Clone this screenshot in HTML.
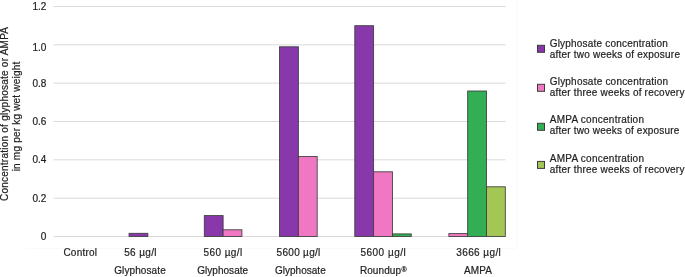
<!DOCTYPE html><html><head><meta charset="utf-8"><style>html,body{margin:0;padding:0;background:#fff;width:685px;height:277px;overflow:hidden}svg{display:block}text{font-family:"Liberation Sans",sans-serif;fill:#1e1e1e;stroke:#1e1e1e;stroke-width:0.2px}svg{will-change:transform}</style></head><body>
<svg width="685" height="277" viewBox="0 0 685 277">
<rect x="0" y="0" width="685" height="277" fill="#fff"/>
<path d="M26,248.5 H516.5 V0" fill="none" stroke="#fafafa" stroke-width="1"/>
<line x1="53.5" x2="505.5" y1="6.50" y2="6.50" stroke="#d9d9d9" stroke-width="1"/>
<line x1="53.5" x2="505.5" y1="44.83" y2="44.83" stroke="#d9d9d9" stroke-width="1"/>
<line x1="53.5" x2="505.5" y1="83.17" y2="83.17" stroke="#d9d9d9" stroke-width="1"/>
<line x1="53.5" x2="505.5" y1="121.50" y2="121.50" stroke="#d9d9d9" stroke-width="1"/>
<line x1="53.5" x2="505.5" y1="159.83" y2="159.83" stroke="#d9d9d9" stroke-width="1"/>
<line x1="53.5" x2="505.5" y1="198.17" y2="198.17" stroke="#d9d9d9" stroke-width="1"/>
<line x1="53.5" x2="505.5" y1="236.50" y2="236.50" stroke="#d9d9d9" stroke-width="1"/>
<text x="46.4" y="10.00" font-size="10.0" text-anchor="end">1.2</text>
<text x="46.4" y="50.73" font-size="10.0" text-anchor="end">1.0</text>
<text x="46.4" y="86.67" font-size="10.0" text-anchor="end">0.8</text>
<text x="46.4" y="125.00" font-size="10.0" text-anchor="end">0.6</text>
<text x="46.4" y="163.33" font-size="10.0" text-anchor="end">0.4</text>
<text x="46.4" y="201.67" font-size="10.0" text-anchor="end">0.2</text>
<text x="46.4" y="240.00" font-size="10.0" text-anchor="end">0</text>
<rect x="129.05" y="233.30" width="18.812" height="3.20" fill="#8838AA" stroke="#3c3c3c" stroke-width="0.85"/>
<rect x="204.30" y="215.60" width="18.812" height="20.90" fill="#8838AA" stroke="#3c3c3c" stroke-width="0.85"/>
<rect x="223.11" y="229.80" width="18.812" height="6.70" fill="#F078C2" stroke="#3c3c3c" stroke-width="0.85"/>
<rect x="279.55" y="46.80" width="18.812" height="189.70" fill="#8838AA" stroke="#3c3c3c" stroke-width="0.85"/>
<rect x="298.36" y="156.50" width="18.812" height="80.00" fill="#F078C2" stroke="#3c3c3c" stroke-width="0.85"/>
<rect x="354.80" y="25.70" width="18.812" height="210.80" fill="#8838AA" stroke="#3c3c3c" stroke-width="0.85"/>
<rect x="373.61" y="171.80" width="18.812" height="64.70" fill="#F078C2" stroke="#3c3c3c" stroke-width="0.85"/>
<rect x="392.43" y="233.90" width="18.812" height="2.60" fill="#33AE55" stroke="#3c3c3c" stroke-width="0.85"/>
<rect x="448.86" y="233.60" width="18.812" height="2.90" fill="#F078C2" stroke="#3c3c3c" stroke-width="0.85"/>
<rect x="467.68" y="91.00" width="18.812" height="145.50" fill="#33AE55" stroke="#3c3c3c" stroke-width="0.85"/>
<rect x="486.49" y="186.80" width="18.812" height="49.70" fill="#A4C654" stroke="#3c3c3c" stroke-width="0.85"/>
<text x="63.40" y="255.8" font-size="10.0" textLength="33.60" lengthAdjust="spacing">Control</text>
<text x="124.20" y="255.8" font-size="10.0" textLength="32.40" lengthAdjust="spacing">56 µg/l</text>
<text x="203.50" y="255.8" font-size="10.0" textLength="38.80" lengthAdjust="spacing">560 µg/l</text>
<text x="276.60" y="255.8" font-size="10.0" textLength="43.70" lengthAdjust="spacing">5600 µg/l</text>
<text x="360.40" y="255.8" font-size="10.0" textLength="45.40" lengthAdjust="spacing">5600 µg/l</text>
<text x="456.20" y="255.8" font-size="10.0" textLength="44.60" lengthAdjust="spacing">3666 µg/l</text>
<text x="114.20" y="274.1" font-size="10.0" textLength="51.50" lengthAdjust="spacing">Glyphosate</text>
<text x="197.20" y="274.1" font-size="10.0" textLength="50.90" lengthAdjust="spacing">Glyphosate</text>
<text x="275.00" y="274.1" font-size="10.0" textLength="50.70" lengthAdjust="spacing">Glyphosate</text>
<text x="464.10" y="274.1" font-size="10.0" textLength="27.80" lengthAdjust="spacing">AMPA</text>
<text x="359.9" y="274.1" font-size="10.0"><tspan textLength="41.1" lengthAdjust="spacing">Roundup</tspan><tspan font-size="7" dx="0.5" dy="-2.4">®</tspan></text>
<rect x="537.5" y="45.30" width="7" height="7" fill="#8838AA" stroke="#3c3c3c" stroke-width="1"/>
<text x="549.7" y="46.50" font-size="10.0" textLength="118.10" lengthAdjust="spacing">Glyphosate concentration</text>
<text x="549.7" y="57.80" font-size="10.0" textLength="130.30" lengthAdjust="spacing">after two weeks of exposure</text>
<rect x="537.5" y="84.30" width="7" height="7" fill="#F078C2" stroke="#3c3c3c" stroke-width="1"/>
<text x="549.7" y="85.20" font-size="10.0" textLength="118.30" lengthAdjust="spacing">Glyphosate concentration</text>
<text x="549.7" y="96.30" font-size="10.0" textLength="134.70" lengthAdjust="spacing">after three weeks of recovery</text>
<rect x="537.5" y="123.30" width="7" height="7" fill="#33AE55" stroke="#3c3c3c" stroke-width="1"/>
<text x="549.7" y="123.20" font-size="10.0" textLength="94.30" lengthAdjust="spacing">AMPA concentration</text>
<text x="549.7" y="134.40" font-size="10.0" textLength="129.70" lengthAdjust="spacing">after two weeks of exposure</text>
<rect x="537.5" y="161.40" width="7" height="7" fill="#A4C654" stroke="#3c3c3c" stroke-width="1"/>
<text x="549.7" y="162.00" font-size="10.0" textLength="94.30" lengthAdjust="spacing">AMPA concentration</text>
<text x="549.7" y="173.30" font-size="10.0" textLength="134.70" lengthAdjust="spacing">after three weeks of recovery</text>
<text transform="translate(8,201) rotate(-90)" x="0" y="0" font-size="10.0" textLength="174" lengthAdjust="spacing">Concentration of glyphosate or AMPA</text>
<text transform="translate(20,171.3) rotate(-90)" x="0" y="0" font-size="10.0" textLength="109.6" lengthAdjust="spacing">in mg per kg wet weight</text>
</svg></body></html>
